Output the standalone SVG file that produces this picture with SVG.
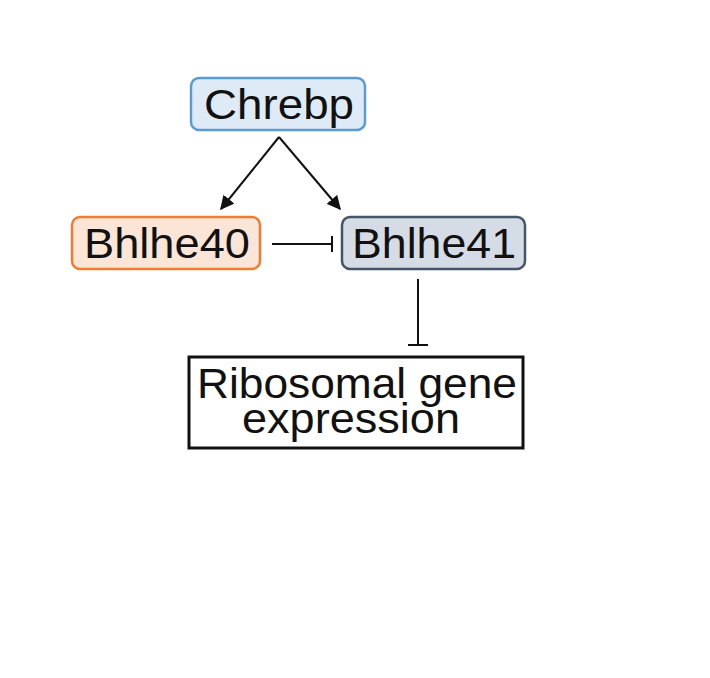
<svg xmlns="http://www.w3.org/2000/svg" width="710" height="678" viewBox="0 0 710 678">
<style>
text{font-family:"Liberation Sans",Arial,sans-serif;fill:#111;text-anchor:middle}
.n{stroke-width:2.5}
.c{stroke:#111;stroke-width:2;fill:none}
</style>
<defs><marker id="a" viewBox="0 0 10 10" refX="9" refY="5" markerWidth="7" markerHeight="7" orient="auto"><path d="M0,0L10,5L0,10z" fill="#111"/></marker></defs>
<rect width="710" height="678" fill="#fff"/>
<g id="chrebp"><rect class="n" x="191" y="78" width="174" height="52" rx="8" fill="#deebf7" stroke="#5b9bd5"/><text x="279" y="119" font-size="43" textLength="150" lengthAdjust="spacingAndGlyphs">Chrebp</text></g>
<g id="bhlhe40"><rect class="n" x="72" y="217" width="188" height="52" rx="8" fill="#fbe5d6" stroke="#ed7d31"/><text x="167" y="258" font-size="43" textLength="166" lengthAdjust="spacingAndGlyphs">Bhlhe40</text></g>
<g id="bhlhe41"><rect class="n" x="342" y="217" width="183" height="52" rx="8" fill="#d6dce5" stroke="#44546a"/><text x="434" y="258" font-size="43" textLength="164" lengthAdjust="spacingAndGlyphs">Bhlhe41</text></g>
<g id="ribosomal"><rect x="189" y="357" width="334" height="91" fill="#fff" stroke="#111" stroke-width="3"/><text font-size="42"><tspan x="357" y="398" textLength="320" lengthAdjust="spacingAndGlyphs">Ribosomal gene</tspan><tspan x="351" y="433" textLength="218" lengthAdjust="spacingAndGlyphs">expression</tspan></text></g>
<g id="connectors">
<path class="c" d="M279,137L221,209" marker-end="url(#a)"/>
<path class="c" d="M279,137L340,209" marker-end="url(#a)"/>
<path class="c" d="M272,244H331M332,236V252"/>
<path class="c" d="M418,279V345M408,345H428"/>
</g>
</svg>
